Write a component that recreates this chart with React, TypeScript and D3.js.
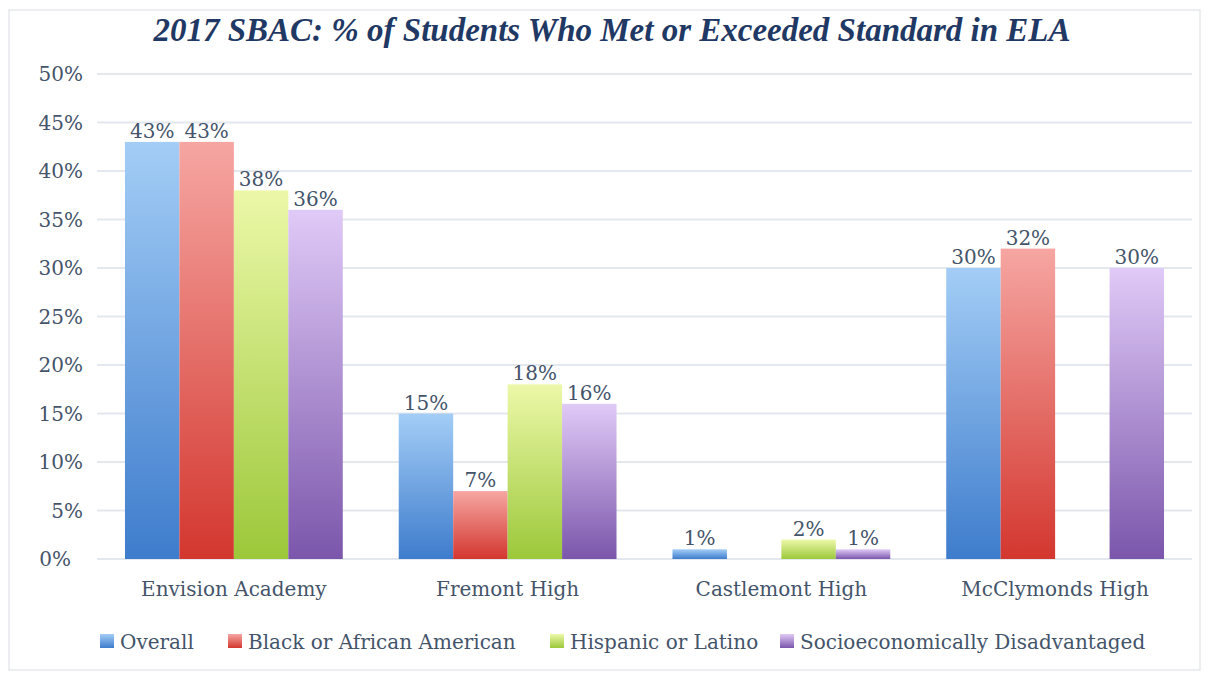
import React from "react";
import * as d3 from "d3";

const categories = ["Envision Academy", "Fremont High", "Castlemont High", "McClymonds High"];
const seriesNames = ["Overall", "Black or African American", "Hispanic or Latino", "Socioeconomically Disadvantaged"];
const overall: (number | null)[] = [43, 15, 1, 30];
const black: (number | null)[] = [43, 7, null, 32];
const hispanic: (number | null)[] = [38, 18, 2, null];
const socio: (number | null)[] = [36, 16, 1, 30];
const yTicks = [0, 5, 10, 15, 20, 25, 30, 35, 40, 45, 50];

const seriesValues = [overall, black, hispanic, socio];
const gradients = [
  ["#a3cdf6", "#3e7ccc"],
  ["#f6a6a2", "#d3372f"],
  ["#ecf8a8", "#9cc83a"],
  ["#e0caf7", "#7b56ab"],
];

const W = 1209;
const H = 677;
const margin = { left: 97, right: 17, top: 74, bottom: 118 };

export default function App() {
  const x0 = d3
    .scaleBand<string>()
    .domain(categories)
    .range([margin.left, W - margin.right])
    .paddingInner(0.2044)
    .paddingOuter(0.1022);
  const x1 = d3
    .scaleBand<number>()
    .domain(d3.range(seriesNames.length))
    .range([0, x0.bandwidth()]);
  const y = d3.scaleLinear().domain([0, 50]).range([H - margin.bottom, margin.top]);

  const textColor = "#44546a";
  const serif = "'DejaVu Serif', serif";
  const fs = 20;

  const legendX = [100, 228, 550, 780];

  return (
    <svg
      width={W}
      height={H}
      style={{ position: "absolute", left: 0, top: 0, background: "#fff" }}
    >
      <defs>
        {gradients.map((g, i) => (
          <linearGradient key={i} id={`g${i}`} x1="0" y1="0" x2="0" y2="1">
            <stop offset="0%" stopColor={g[0]} />
            <stop offset="100%" stopColor={g[1]} />
          </linearGradient>
        ))}
      </defs>
      <rect x={9} y={10} width={1191} height={660} fill="#fff" stroke="#e6e9ee" strokeWidth={1.5} />
      <text
        x={612}
        y={41}
        textAnchor="middle"
        fontFamily="'Liberation Serif', serif"
        fontWeight="bold"
        fontStyle="italic"
        fontSize={33}
        fill="#1f3864"
      >
        2017 SBAC: % of Students Who Met or Exceeded Standard in ELA
      </text>
      {yTicks.map((t) => (
        <g key={t}>
          <line
            x1={margin.left}
            x2={W - margin.right}
            y1={y(t)}
            y2={y(t)}
            stroke="#e3e7ee"
            strokeWidth={2}
          />
          <text
            x={t === 0 ? 71 : 83}
            y={y(t)}
            dy="0.36em"
            textAnchor="end"
            fontFamily={serif}
            fontSize={fs}
            fill={textColor}
          >
            {t}%
          </text>
        </g>
      ))}
      {categories.map((c, ci) => (
        <g key={c} transform={`translate(${x0(c)},0)`}>
          {seriesValues.map((vals, si) => {
            const v = vals[ci];
            if (v === null) return null;
            const bx = x1(si)!;
            const bw = x1.bandwidth();
            return (
              <g key={si}>
                <rect
                  x={bx}
                  y={y(v)}
                  width={bw}
                  height={y(0) - y(v)}
                  fill={`url(#g${si})`}
                />
                <text
                  x={bx + bw / 2}
                  y={y(v) - 4}
                  textAnchor="middle"
                  fontFamily={serif}
                  fontSize={fs}
                  fill={textColor}
                >
                  {v}%
                </text>
              </g>
            );
          })}
          <text
            x={x0.bandwidth() / 2}
            y={596}
            textAnchor="middle"
            fontFamily={serif}
            fontSize={fs}
            fill={textColor}
          >
            {c}
          </text>
        </g>
      ))}
      {seriesNames.map((s, i) => (
        <g key={s} transform={`translate(${legendX[i]},634)`}>
          <rect x={0} y={0} width={14} height={14} fill={`url(#g${i})`} />
          <text x={20} y={15} fontFamily={serif} fontSize={fs} fill={textColor}>
            {s}
          </text>
        </g>
      ))}
    </svg>
  );
}
